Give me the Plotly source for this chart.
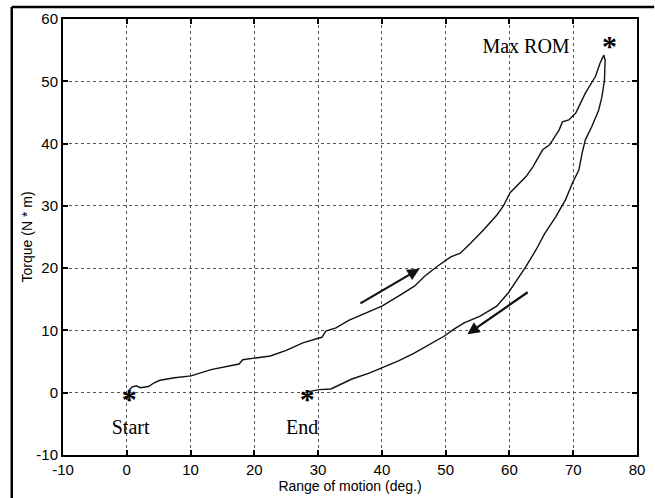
import plotly.graph_objects as go

# Loading (upper) then unloading (lower) branch, one continuous trace
curve_x = [0.0, 0.3, 0.8, 1.5, 2.1, 3.4, 4.3, 5.2, 7.5, 10.1, 13.2, 16.3, 17.6, 18.2,
           19.9, 22.5, 25.0, 27.6, 29.9, 30.6, 31.2, 32.8, 34.8, 37.4, 40.0, 42.6,
           45.1, 46.7, 48.7, 50.8, 52.3, 53.9, 56.0, 58.0, 59.0, 60.1, 62.6, 63.7,
           65.2, 66.3, 67.8, 68.3, 69.3, 70.4, 71.9, 73.5, 74.2, 74.8,
           75.0, 74.9, 74.5, 74.0, 72.9, 71.9, 71.4, 70.9, 69.9, 68.8, 67.3, 65.5,
           64.2, 62.6, 61.6, 59.8, 58.0, 55.4, 52.9, 51.3, 49.8, 47.5, 45.0, 42.6,
           40.0, 37.9, 35.3, 33.3, 32.0, 30.2, 28.1]
curve_y = [-1.2, 0.3, 0.9, 1.1, 0.8, 1.0, 1.6, 2.0, 2.4, 2.7, 3.7, 4.4, 4.6, 5.3,
           5.5, 5.9, 6.8, 8.0, 8.7, 8.9, 9.9, 10.4, 11.6, 12.7, 13.9, 15.5,
           17.1, 18.7, 20.3, 21.8, 22.4, 24.0, 26.2, 28.5, 29.9, 32.1, 34.7, 36.3,
           39.0, 39.8, 42.2, 43.5, 43.8, 44.9, 48.1, 50.8, 52.9, 54.2,
           53.4, 50.2, 47.5, 45.4, 42.7, 40.6, 38.5, 35.8, 33.7, 31.0, 28.3, 25.5,
           23.0, 20.3, 18.7, 16.0, 13.9, 12.3, 11.2, 10.2, 9.1, 7.7, 6.3, 5.1,
           4.0, 3.1, 2.2, 1.3, 0.6, 0.5, 0.1]

star_x = [0.4, 28.3, 75.7]
star_y = [-1.4, -1.4, 55.2]

label_text = ["Start", "End", "Max ROM"]
label_x = [0.6, 27.5, 62.6]
label_y = [-5.9, -5.9, 55.4]

# arrows: (tail_x, tail_y, head_x, head_y)
arrow_tail_x = [36.4, 63.1]
arrow_tail_y = [14.2, 16.3]
arrow_head_x = [45.9, 53.4]
arrow_head_y = [19.9, 9.4]

tick_vals_x = [-10, 0, 10, 20, 30, 40, 50, 60, 70, 80]
tick_vals_y = [-10, 0, 10, 20, 30, 40, 50, 60]

fig = go.Figure()
fig.add_trace(go.Scatter(x=curve_x, y=curve_y, mode="lines",
                         line=dict(color="#111111", width=1.4), hoverinfo="skip"))
fig.add_trace(go.Scatter(x=star_x, y=star_y, mode="text", text=["*"] * len(star_x),
                         textposition="middle center",
                         textfont=dict(family="Liberation Serif", size=30, color="#000000",
                                       weight="bold")))
fig.add_trace(go.Scatter(x=label_x, y=label_y, mode="text", text=label_text,
                         textposition="middle center",
                         textfont=dict(family="Liberation Serif", size=20, color="#000000")))

for tx, ty, hx, hy in zip(arrow_tail_x, arrow_tail_y, arrow_head_x, arrow_head_y):
    fig.add_annotation(x=hx, y=hy, ax=tx, ay=ty, xref="x", yref="y", axref="x", ayref="y",
                       showarrow=True, arrowhead=2, arrowsize=1.1, arrowwidth=2.2,
                       arrowcolor="#111111", text="")

axis_common = dict(showline=True, linecolor="#000000", linewidth=2, mirror="allticks",
                   ticks="inside", ticklen=5, tickcolor="#000000", tickwidth=1.5,
                   showgrid=True, gridcolor="#555555", griddash="dot", gridwidth=1,
                   zeroline=False,
                   tickfont=dict(family="Liberation Sans", size=15, color="#000000"),
                   title_font=dict(family="Liberation Sans", size=14, color="#000000"))

fig.update_xaxes(range=[-10, 80], tickvals=tick_vals_x, ticktext=[str(v) for v in tick_vals_x],
                 title_text="Range of motion (deg.)", title_standoff=0, **axis_common)
fig.update_yaxes(range=[-10, 60], tickvals=tick_vals_y, ticktext=[str(v) for v in tick_vals_y],
                 **axis_common)

fig.add_annotation(text="Torque (N * m)", xref="paper", yref="paper", x=-0.062, y=0.5,
                   xanchor="center", yanchor="middle", textangle=-90, showarrow=False,
                   font=dict(family="Liberation Sans", size=14, color="#000000"))

# outer frame (left and top edges visible)
fig.add_shape(type="line", xref="paper", yref="paper", x0=-0.0893, x1=-0.0893, y0=1.0275, y1=-0.12,
              line=dict(color="#000000", width=2.5))
fig.add_shape(type="line", xref="paper", yref="paper", x0=-0.0893, x1=1.03, y0=1.0275, y1=1.0275,
              line=dict(color="#000000", width=2.5))

fig.update_layout(width=655, height=498, showlegend=False,
                  paper_bgcolor="#ffffff", plot_bgcolor="#ffffff",
                  margin=dict(l=63, r=10, t=19, b=42))

fig.write_html("out.html", config={"displayModeBar": False},
               post_script="document.body.style.margin='0px';")
